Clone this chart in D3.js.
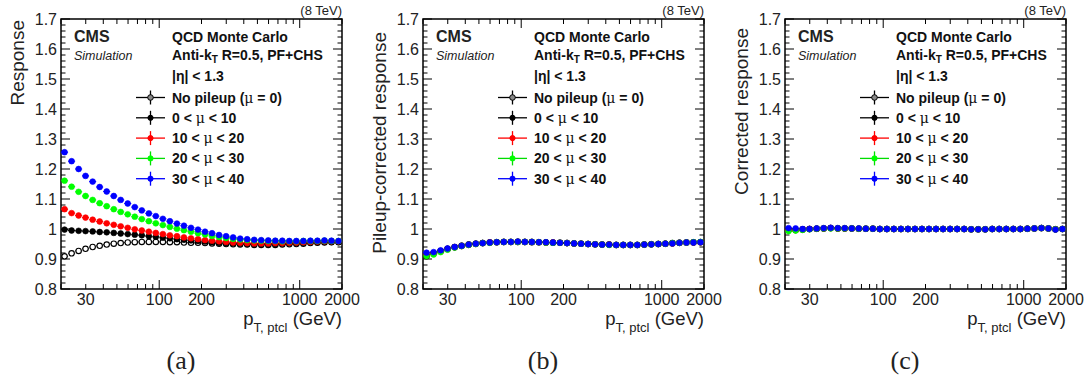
<!DOCTYPE html>
<html><head><meta charset="utf-8">
<script src="https://cdn.jsdelivr.net/npm/d3@7"></script>
<style>
html,body{margin:0;padding:0;background:#fff;}
svg{display:block;font-family:"Liberation Sans",Arial,Helvetica,sans-serif;}
</style></head>
<body><svg id="c" width="1086" height="384"></svg>
<script>
// ---------------- data ----------------
const ptBins = [21.2,23.8,26.7,29.9,33.6,37.7,42.3,47.5,53.2,59.7,67.0,75.2,84.4,94.6,106.2,119.1,133.7,150.0,168.3,188.8,
  211.9,237.7,266.7,299.3,335.8,376.8,422.8,474.4,532.2,597.2,670.1,751.8,843.5,946.4,1061.9,1191.5,1336.9,1500.0,1683.0,1888.4];
const seriesNames = ["No pileup (\u03bc = 0)","0 < \u03bc < 10","10 < \u03bc < 20","20 < \u03bc < 30","30 < \u03bc < 40"];
const yTickValues = [0.8,0.9,1.0,1.1,1.2,1.3,1.4,1.5,1.6,1.7];
const yTickLabels = ["0.8","0.9","1","1.1","1.2","1.3","1.4","1.5","1.6","1.7"];
const xTickLabels = [30,100,200,1000,2000];
const yTitles = ["Response","Pileup-corrected response","Corrected response"];
const panelLabels = ["(a)","(b)","(c)"];

// panel (a): raw response
const a_noPU  = [0.909,0.919,0.927,0.934,0.940,0.944,0.948,0.951,0.953,0.955,0.956,0.957,0.957,0.957,0.957,0.956,0.956,0.955,0.954,0.954,
  0.953,0.952,0.951,0.950,0.949,0.948,0.948,0.947,0.947,0.947,0.947,0.948,0.949,0.950,0.951,0.953,0.954,0.955,0.956,0.956];
const a_mu0   = [0.998,0.995,0.994,0.993,0.992,0.990,0.989,0.987,0.985,0.983,0.981,0.979,0.976,0.974,0.971,0.969,0.966,0.964,0.962,0.960,
  0.958,0.956,0.954,0.953,0.952,0.951,0.950,0.950,0.950,0.950,0.950,0.951,0.952,0.953,0.954,0.955,0.956,0.957,0.957,0.957];
const a_mu10  = [1.066,1.053,1.045,1.038,1.031,1.025,1.019,1.014,1.009,1.004,0.999,0.995,0.991,0.987,0.983,0.979,0.976,0.972,0.969,0.966,
  0.963,0.961,0.959,0.957,0.955,0.954,0.953,0.952,0.952,0.952,0.953,0.953,0.954,0.955,0.956,0.957,0.958,0.959,0.959,0.959];
const a_mu20  = [1.161,1.141,1.124,1.110,1.097,1.086,1.076,1.066,1.057,1.049,1.041,1.033,1.026,1.019,1.013,1.007,1.001,0.996,0.991,0.986,
  0.982,0.977,0.973,0.970,0.967,0.965,0.963,0.962,0.961,0.960,0.960,0.959,0.959,0.959,0.960,0.960,0.960,0.961,0.960,0.960];
const a_mu30  = [1.256,1.226,1.200,1.177,1.158,1.140,1.125,1.110,1.097,1.085,1.073,1.062,1.052,1.043,1.034,1.026,1.018,1.011,1.004,0.998,
  0.991,0.986,0.980,0.976,0.972,0.968,0.966,0.964,0.963,0.962,0.961,0.961,0.960,0.960,0.960,0.961,0.961,0.962,0.961,0.960];

// panel (b): pileup-corrected response
const b_noPU  = [0.909,0.919,0.927,0.934,0.940,0.944,0.948,0.951,0.953,0.955,0.956,0.957,0.957,0.957,0.957,0.956,0.956,0.955,0.954,0.954,
  0.953,0.952,0.951,0.950,0.949,0.948,0.948,0.947,0.947,0.947,0.947,0.948,0.949,0.950,0.951,0.953,0.954,0.955,0.956,0.956];
const b_mu0   = [0.913,0.919,0.926,0.933,0.939,0.944,0.948,0.951,0.953,0.955,0.956,0.957,0.957,0.958,0.957,0.957,0.956,0.955,0.955,0.954,
  0.953,0.952,0.951,0.950,0.949,0.948,0.948,0.947,0.947,0.947,0.947,0.948,0.949,0.950,0.951,0.952,0.954,0.955,0.955,0.956];
const b_mu10  = [0.914,0.918,0.925,0.933,0.939,0.943,0.947,0.950,0.953,0.955,0.956,0.957,0.957,0.957,0.957,0.957,0.956,0.955,0.955,0.954,
  0.953,0.952,0.951,0.950,0.949,0.948,0.948,0.947,0.947,0.947,0.947,0.948,0.949,0.950,0.951,0.952,0.954,0.955,0.955,0.956];
const b_mu20  = [0.910,0.915,0.923,0.931,0.938,0.943,0.947,0.950,0.953,0.954,0.956,0.957,0.957,0.957,0.957,0.957,0.956,0.955,0.954,0.954,
  0.953,0.952,0.951,0.950,0.949,0.948,0.947,0.947,0.947,0.947,0.947,0.948,0.949,0.950,0.951,0.953,0.954,0.955,0.956,0.957];
const b_mu30  = [0.921,0.923,0.929,0.935,0.940,0.944,0.948,0.951,0.953,0.955,0.956,0.957,0.957,0.958,0.957,0.957,0.956,0.956,0.955,0.954,
  0.953,0.952,0.951,0.950,0.949,0.948,0.948,0.947,0.947,0.947,0.947,0.948,0.949,0.950,0.951,0.952,0.954,0.955,0.955,0.956];

// panel (c): fully corrected response
const c_noPU  = [0.998,0.997,0.999,1.000,1.001,1.002,1.003,1.002,1.002,1.002,1.001,1.001,1.001,1.000,1.000,1.000,1.000,1.000,1.000,1.000,
  1.000,1.000,1.000,1.000,1.000,1.000,0.999,0.999,0.999,1.000,1.000,1.000,1.000,1.000,1.001,1.002,1.003,1.002,0.999,1.000];
const c_mu0   = [0.997,0.997,0.998,1.000,1.001,1.002,1.003,1.002,1.002,1.002,1.001,1.001,1.001,1.000,1.000,1.000,1.000,1.000,1.000,1.000,
  1.000,1.000,1.000,1.000,1.000,1.000,0.999,0.999,0.999,1.000,1.000,1.000,1.000,1.000,1.001,1.002,1.003,1.002,0.999,1.000];
const c_mu10  = [0.996,0.996,0.998,1.000,1.001,1.002,1.003,1.002,1.002,1.002,1.001,1.001,1.001,1.000,1.000,1.000,1.000,1.000,1.000,1.000,
  1.000,1.000,1.000,1.000,1.000,1.000,0.999,0.999,0.999,1.000,1.000,1.000,1.000,1.000,1.001,1.002,1.003,1.002,0.999,1.000];
const c_mu20  = [0.993,0.995,0.997,0.999,1.001,1.002,1.002,1.002,1.002,1.002,1.001,1.001,1.001,1.000,1.000,1.000,1.000,1.000,1.000,1.000,
  1.000,1.000,1.000,1.000,1.000,1.000,0.999,0.999,0.999,1.000,1.000,1.000,1.000,1.000,1.001,1.002,1.003,1.002,0.999,1.000];
const c_mu30  = [1.003,1.002,1.000,1.000,1.002,1.003,1.004,1.003,1.003,1.002,1.002,1.001,1.001,1.000,1.000,1.000,1.000,1.000,1.000,1.000,
  1.000,1.000,1.000,1.000,1.000,1.000,0.999,0.999,0.999,1.000,1.000,1.000,1.000,1.000,1.001,1.002,1.003,1.002,0.998,1.000];

const panelsData = [
  [a_noPU,a_mu0,a_mu10,a_mu20,a_mu30],
  [b_noPU,b_mu0,b_mu10,b_mu20,b_mu30],
  [c_noPU,c_mu0,c_mu10,c_mu20,c_mu30]
];

// ---------------- style ----------------
const colors = ["#000000","#000000","#ff0000","#00dd00","#0000ff"];
const markerFill = ["#ffffff","#000000","#ff0000","#00ff00","#0000ff"];
const markerStroke = ["#000000","#000000","#ff0000","#00ff00","#0000ff"];
const PW = 362, L = 61, R = 342, T = 19, B = 289;
const yTitleEnd = [20, 32, 28];

const svg = d3.select("#c");

panelsData.forEach((series, p) => {
  const g = svg.append("g").attr("transform", `translate(${p*PW},0)`);
  const x = d3.scaleLog().domain([20,2000]).range([L,R]);
  const y = d3.scaleLinear().domain([0.8,1.7]).range([B,T]);

  // ticks x (log)
  const xt = [];
  for (let dec = 10; dec <= 1000; dec *= 10)
    for (let m = 1; m <= 9; m++) { const v = dec*m; if (v >= 20 && v <= 2000) xt.push(v); }
  xt.forEach(v => {
    const major = (v === 100 || v === 1000);
    const len = major ? 9 : 5;
    g.append("line").attr("x1",x(v)).attr("x2",x(v)).attr("y1",B).attr("y2",B-len).attr("stroke","#000").attr("stroke-width",1);
    g.append("line").attr("x1",x(v)).attr("x2",x(v)).attr("y1",T).attr("y2",T+len).attr("stroke","#000").attr("stroke-width",1);
  });
  // ticks y
  for (let k = 0; k <= 45; k++) {
    const v = 0.8 + k*0.02;
    const major = (k % 5 === 0);
    const len = major ? 9 : 4.5;
    g.append("line").attr("x1",L).attr("x2",L+len).attr("y1",y(v)).attr("y2",y(v)).attr("stroke","#000").attr("stroke-width",1);
    g.append("line").attr("x1",R).attr("x2",R-len).attr("y1",y(v)).attr("y2",y(v)).attr("stroke","#000").attr("stroke-width",1);
  }
  // frame
  g.append("rect").attr("x",L).attr("y",T).attr("width",R-L).attr("height",B-T)
    .attr("fill","none").attr("stroke","#000").attr("stroke-width",1.5);

  // tick labels
  yTickValues.forEach((v,i) => {
    g.append("text").attr("x",L-4).attr("y",y(v)+5.8).attr("text-anchor","end")
      .attr("font-size",16).attr("fill","#222").text(yTickLabels[i]);
  });
  xTickLabels.forEach(v => {
    g.append("text").attr("x",x(v)).attr("y",305).attr("text-anchor","middle")
      .attr("font-size",16).attr("fill","#222").text(v);
  });

  // axis titles
  g.append("text").attr("transform",`translate(24,${yTitleEnd[p]}) rotate(-90)`)
    .attr("text-anchor","end").attr("font-size",19).attr("fill","#222").text(yTitles[p]);
  const xt2 = g.append("text").attr("x",R).attr("y",325).attr("text-anchor","end").attr("fill","#222");
  xt2.append("tspan").attr("font-size",18.5).text("p");
  xt2.append("tspan").attr("font-size",13).attr("dy",7).text("T, ptcl");
  xt2.append("tspan").attr("font-size",18.5).attr("dy",-7).text(" (GeV)");

  // top-right energy
  g.append("text").attr("x",R).attr("y",15).attr("text-anchor","end").attr("font-size",13).attr("fill","#222").text("(8 TeV)");
  // CMS
  g.append("text").attr("x",74).attr("y",42).attr("font-size",16).attr("font-weight","bold").attr("fill","#222").text("CMS");
  g.append("text").attr("x",74).attr("y",60).attr("font-size",12.5).attr("font-style","italic").attr("fill","#222").text("Simulation");
  // header text
  g.append("text").attr("x",172).attr("y",42).attr("font-size",14).attr("font-weight","bold").attr("fill","#111").text("QCD Monte Carlo");
  const ak = g.append("text").attr("x",172).attr("y",60).attr("font-size",14).attr("font-weight","bold").attr("fill","#111");
  ak.append("tspan").text("Anti-k");
  ak.append("tspan").attr("font-size",10).attr("dy",3).text("T");
  ak.append("tspan").attr("dy",-3).text(" R=0.5, PF+CHS");
  g.append("text").attr("x",172).attr("y",81).attr("font-size",14).attr("font-weight","bold").attr("fill","#111").text("|\u03b7| < 1.3");

  // legend
  seriesNames.forEach((name,i) => {
    const cy = 97.5 + i*20.3;
    g.append("line").attr("x1",136).attr("x2",165).attr("y1",cy).attr("y2",cy).attr("stroke",colors[i]).attr("stroke-width",1.3);
    g.append("line").attr("x1",150.5).attr("x2",150.5).attr("y1",cy-7).attr("y2",cy+7).attr("stroke",colors[i]).attr("stroke-width",1.3);
    g.append("circle").attr("cx",150.5).attr("cy",cy).attr("r",i===0?2.8:2.6)
      .attr("fill",i===0?"#888":markerFill[i]).attr("stroke",markerStroke[i]).attr("stroke-width",1);
    const parts = name.split("\u03bc");
    const t = g.append("text").attr("x",172).attr("y",cy+5).attr("font-size",14).attr("font-weight","bold").attr("fill","#111");
    t.append("tspan").text(parts[0]);
    t.append("tspan").attr("font-weight","normal").attr("font-family","'DejaVu Serif',serif").text("\u03bc");
    t.append("tspan").text(parts[1]);
  });

  // data: horizontal bin bars (blue first, black last), then markers
  const half = 0.025;
  const clip = "clip"+p;
  g.append("clipPath").attr("id",clip).append("rect").attr("x",L).attr("y",T).attr("width",R-L).attr("height",B-T);
  const dg = g.append("g").attr("clip-path",`url(#${clip})`);
  [4,3,2,1,0].forEach(s => {
    dg.selectAll(null).data(series[s]).enter().append("line")
      .attr("x1",(d,j)=>x(ptBins[j]/Math.pow(10,half))).attr("x2",(d,j)=>x(ptBins[j]*Math.pow(10,half)))
      .attr("y1",d=>y(d)).attr("y2",d=>y(d)).attr("stroke",colors[s]).attr("stroke-width",1);
  });
  [0,1,2,3,4].forEach(s => {
    dg.selectAll(null).data(series[s]).enter().append("circle")
      .attr("cx",(d,j)=>x(ptBins[j])).attr("cy",d=>y(d))
      .attr("r", s===0 ? 2.7 : 2.9)
      .attr("fill",markerFill[s]).attr("stroke",markerStroke[s]).attr("stroke-width", s===0?1.1:0.6);
  });

  // panel label
  g.append("text").attr("x",181).attr("y",369).attr("text-anchor","middle")
    .attr("font-family","'Liberation Serif','DejaVu Serif',serif").attr("font-size",26).attr("fill","#222").text(panelLabels[p]);
});
</script>
</body></html>
